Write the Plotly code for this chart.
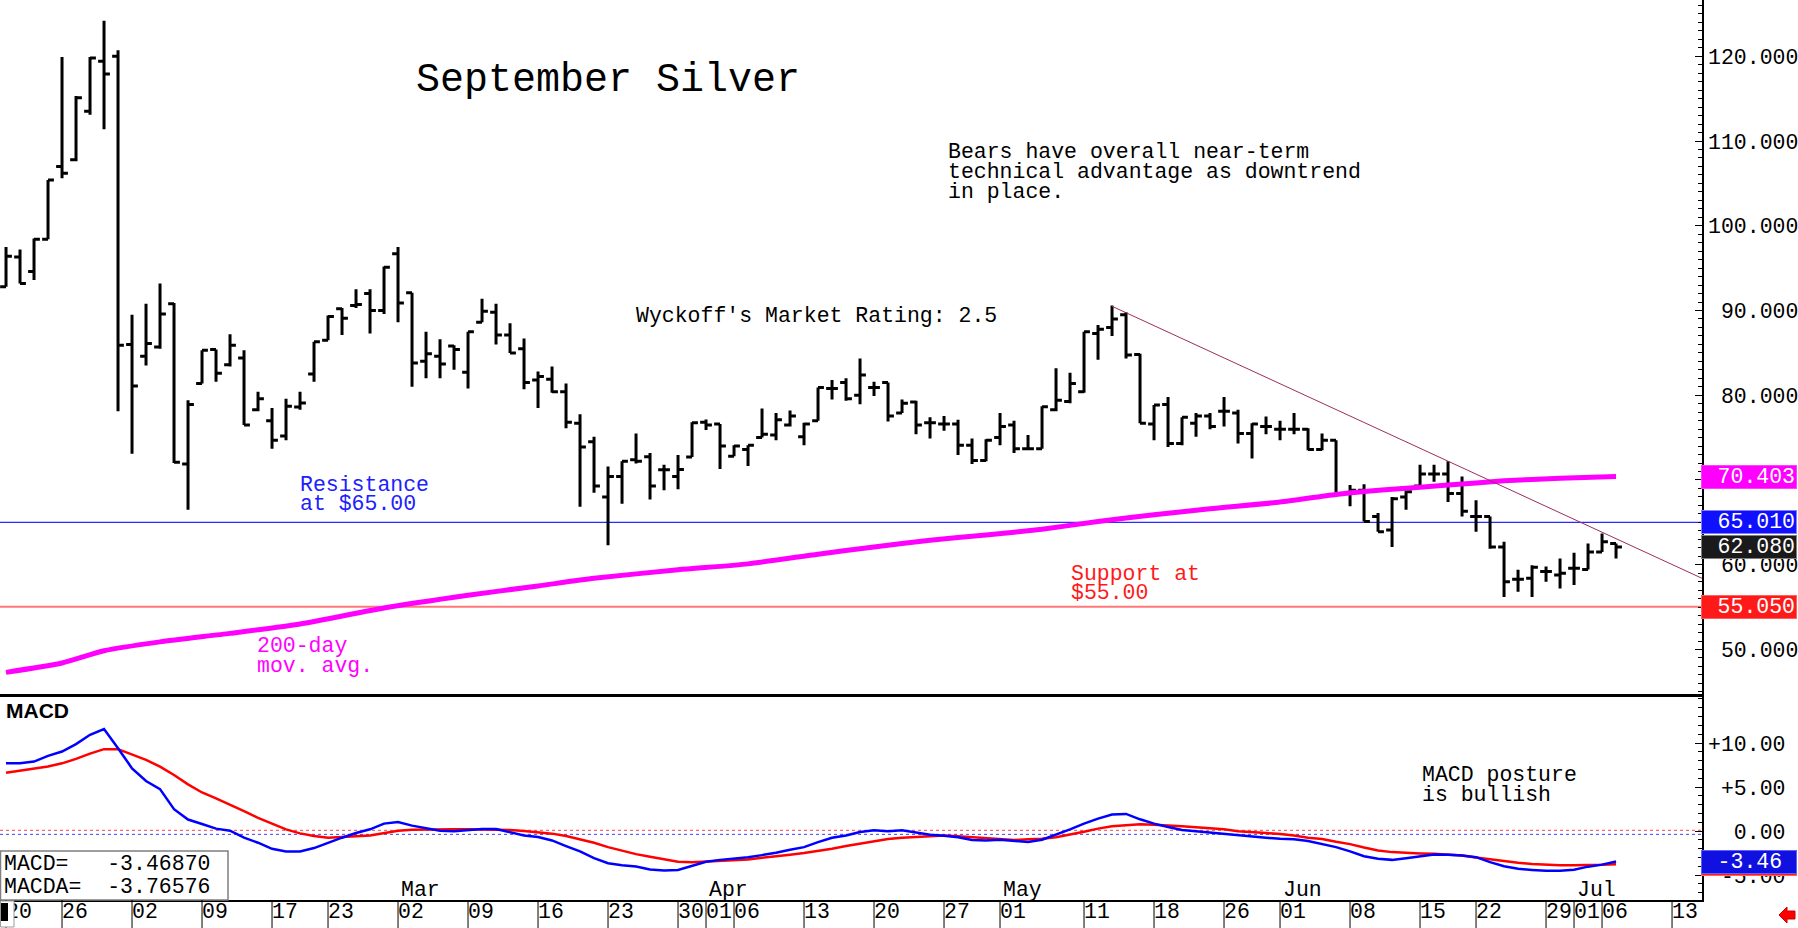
import math
import pandas as pd
import plotly.graph_objects as go

# ---------------- data ----------------
holidays = ["2026-01-19", "2026-02-16", "2026-04-03", "2026-05-25", "2026-06-19", "2026-07-03"]
calendar_start, calendar_end = "2026-01-20", "2026-07-17"

opens = [92.8, 96.3, 94.6, 98.4,
         107.0, 107.8, 113.5, 119.4, 120.0, 86.0, 84.6, 85.7, 90.8, 71.9,
         81.4, 85.4, 83.6, 84.4, 78.3, 77.0, 75.2, 78.6, 82.5, 86.5,
         90.2, 90.6, 92.0, 90.0, 96.7, 92.1, 84.0, 84.6, 85.8, 82.7,
         88.6, 89.8, 87.1, 85.5, 81.8, 81.9, 80.4, 76.7, 74.5, 68.0,
         70.4, 72.4, 72.75, 71.2, 70.4, 72.7, 76.8, 76.6, 72.8, 73.6,
         75.0, 75.3, 76.5, 75.1, 77.0, 80.8, 81.5, 80.0, 80.9, 81.5,
         77.9, 79.2, 76.75, 76.6, 76.6, 74.1, 72.3, 75.0, 76.5, 73.7,
         73.7, 78.3, 79.25, 80.4, 87.3, 88.0, 89.5, 84.8, 76.6, 78.9,
         74.3, 76.7, 77.55, 78.1, 77.9, 75.5, 76.3, 76.0, 76.0, 76.0,
         73.6, 74.7, 68.4, 68.8, 65.7, 64.1, 68.0, 69.3, 70.7, 70.7,
         68.4, 65.7, 65.7, 62.1, 58.3, 58.4, 59.2, 58.8, 59.6, 59.45,
         61.5, 62.5]
highs = [97.5, 97.2, 98.5, 105.4,
         119.9, 115.3, 119.9, 124.2, 120.7, 89.5, 90.8, 93.2, 90.9, 79.4,
         85.3, 85.4, 87.2, 85.3, 80.4, 78.5, 79.6, 80.4, 86.3, 89.4,
         90.3, 92.5, 92.5, 95.2, 97.5, 92.1, 87.5, 86.6, 85.9, 87.5,
         91.4, 90.8, 88.5, 86.7, 82.8, 83.4, 81.4, 77.75, 75.1, 71.6,
         72.2, 75.5, 73.2, 71.8, 72.95, 76.8, 77.15, 76.6, 74.1, 74.1,
         78.45, 77.9, 78.2, 76.75, 80.9, 81.8, 82.0, 84.35, 81.6, 81.5,
         79.5, 79.35, 77.4, 77.55, 77.1, 74.9, 74.8, 77.9, 77.0, 75.3,
         78.7, 83.2, 82.65, 87.5, 88.3, 90.6, 89.8, 84.9, 78.85, 79.8,
         77.4, 77.9, 77.9, 79.8, 78.3, 76.7, 77.5, 77.0, 77.9, 76.1,
         75.5, 74.7, 69.4, 69.5, 66.1, 68.0, 68.8, 71.8, 71.8, 72.2,
         70.4, 67.6, 65.7, 62.7, 59.4, 59.95, 59.8, 60.75, 61.4, 62.5,
         63.7, 62.5]
lows = [92.8, 93.2, 93.6, 98.4,
        105.6, 107.6, 113.1, 111.4, 78.1, 73.1, 83.5, 85.5, 72.0, 66.5,
        81.4, 81.6, 83.4, 76.5, 78.1, 73.7, 74.7, 78.3, 81.6, 86.5,
        87.1, 90.3, 87.3, 89.6, 88.6, 81.0, 82.0, 82.0, 83.0, 80.8,
        88.6, 86.0, 85.0, 80.7, 78.5, 80.3, 76.1, 66.85, 68.5, 62.3,
        67.2, 71.95, 67.7, 68.8, 68.9, 72.7, 75.9, 71.3, 72.8, 71.65,
        75.0, 74.7, 76.3, 74.1, 77.0, 79.5, 79.35, 78.95, 79.9, 76.9,
        77.9, 75.4, 74.9, 75.8, 72.95, 71.9, 72.2, 74.1, 73.2, 73.6,
        73.7, 78.1, 79.05, 80.3, 84.2, 87.0, 84.35, 76.7, 74.7, 73.9,
        74.1, 75.1, 76.0, 76.3, 74.3, 72.55, 75.4, 74.7, 75.4, 73.5,
        73.5, 68.4, 66.9, 65.1, 63.9, 62.1, 66.5, 69.2, 69.8, 67.4,
        65.7, 63.9, 61.9, 56.2, 56.8, 56.2, 58.0, 57.2, 57.6, 59.45,
        61.5, 60.75]
closes = [96.4, 93.2, 98.4, 105.4,
          106.2, 115.1, 119.8, 117.9, 85.9, 81.1, 86.1, 89.6, 72.1, 78.9,
          85.3, 82.6, 85.9, 76.5, 79.6, 74.7, 78.7, 79.1, 86.3, 89.3,
          89.1, 90.7, 90.0, 95.1, 90.9, 83.8, 84.9, 83.7, 85.4, 87.5,
          89.9, 87.1, 85.0, 81.5, 82.2, 80.4, 76.8, 73.9, 69.3, 70.4,
          72.2, 72.2, 69.3, 71.2, 71.25, 76.75, 76.5, 74.0, 74.0, 74.1,
          75.4, 77.1, 77.55, 76.6, 80.9, 80.8, 79.6, 82.4, 80.9, 77.55,
          79.05, 76.5, 76.75, 76.6, 74.1, 72.3, 74.7, 76.3, 73.7, 73.7,
          78.65, 79.4, 81.4, 87.5, 87.8, 89.0, 84.75, 76.7, 78.85, 74.3,
          77.4, 77.55, 76.3, 78.1, 75.5, 76.6, 76.3, 76.0, 76.0, 73.6,
          74.7, 68.4, 68.8, 65.1, 63.9, 67.8, 68.6, 70.7, 70.7, 68.4,
          66.3, 65.7, 62.1, 58.0, 58.3, 59.7, 59.2, 59.0, 59.6, 61.5,
          62.7, 62.08]

macd = [7.69, 7.69, 7.89, 8.53, 9.03, 9.87, 10.93, 11.58,
        9.41, 7.12, 5.68, 4.76, 2.48, 1.30, 0.80, 0.27,
        0.04, -0.76, -1.33, -2.02, -2.32, -2.32, -1.94, -1.33,
        -0.76, -0.23, 0.19, 0.84, 1.03, 0.61, 0.30, 0.04,
        -0.04, 0.08, 0.23, 0.23, -0.11, -0.50, -0.69, -1.07,
        -1.71, -2.32, -3.09, -3.66, -3.89, -4.04, -4.38, -4.50,
        -4.42, -3.92, -3.50, -3.28, -3.16, -2.97, -2.74, -2.48,
        -2.13, -1.83, -1.26, -0.76, -0.50, -0.11, 0.08, -0.04,
        0.08,
        -0.20, -0.42, -0.53, -0.72, -1.03, -1.07, -0.99, -1.14,
        -1.26, -0.99, -0.42, 0.19, 0.84, 1.41, 1.87, 1.94,
        1.33, 0.84, 0.46, 0.11, -0.04, -0.19, -0.34, -0.53,
        -0.69, -0.76, -0.88, -0.95, -1.14, -1.45, -1.83, -2.32,
        -2.86, -3.16, -3.28, -3.09, -2.86, -2.67, -2.70, -2.78,
        -2.97, -3.54, -4.00, -4.30, -4.42, -4.53, -4.53, -4.40,
        -4.05, -3.82, -3.4687]
macda = [6.63, 6.86, 7.01, 7.32, 7.69, 8.19, 8.80, 9.30,
         9.30, 8.72, 8.08, 7.32, 6.36, 5.30, 4.38, 3.70,
         3.01, 2.25, 1.49, 0.80, 0.19, -0.27, -0.57, -0.76,
         -0.72, -0.61, -0.50, -0.19, 0.04, 0.15, 0.19, 0.19,
         0.19, 0.19, 0.19, 0.19, 0.11, 0.00, -0.11, -0.30,
         -0.57, -0.95, -1.33, -1.83, -2.25, -2.63, -2.93, -3.24,
         -3.50, -3.54, -3.47, -3.43, -3.35, -3.24, -3.05, -2.90,
         -2.71, -2.51, -2.29, -2.02, -1.71, -1.45, -1.18, -0.91,
         -0.76,
         -0.65, -0.57, -0.50, -0.61, -0.72, -0.80, -0.91, -1.03,
         -0.95, -0.88, -0.72, -0.42, -0.08, 0.27, 0.53, 0.65,
         0.76, 0.72, 0.65, 0.53, 0.42, 0.34, 0.19, -0.04,
         -0.11, -0.23, -0.34, -0.50, -0.76, -0.91, -1.22, -1.49,
         -1.87, -2.21, -2.40, -2.51, -2.55, -2.59, -2.70, -2.78,
         -3.01, -3.24, -3.47, -3.62, -3.75, -3.86, -3.90, -3.90,
         -3.90, -3.84, -3.7658]

ma_dates = ["2026-01-20", "2026-01-26", "2026-01-29", "2026-02-04", "2026-02-11", "2026-02-19",
            "2026-02-27", "2026-03-09", "2026-03-16", "2026-03-20", "2026-03-30", "2026-04-07",
            "2026-04-14", "2026-04-20", "2026-04-24", "2026-04-30", "2026-05-06", "2026-05-12",
            "2026-05-18", "2026-05-22", "2026-06-01", "2026-06-05", "2026-06-11", "2026-06-17",
            "2026-06-24", "2026-06-30", "2026-07-07"]
ma_values = [47.3, 48.4, 49.85, 50.9, 51.9, 53.0, 54.9, 56.4, 57.5, 58.4, 59.4, 60.1,
             61.25, 62.1, 62.9, 63.5, 64.2, 65.1, 65.9, 66.6, 67.4, 68.3, 68.9, 69.4,
             69.9, 70.2, 70.403]

trend_start_date = "2026-05-13"
trend_values = [90.5, 58.4]          # at start date, and at the right edge of the chart

resistance = 65.01
support = 55.05
last_close = 62.08
ma_last = 70.403
macd_last = -3.46870
macda_last = -3.76576
macd_ref_red = 0.08
macd_ref_blue = -0.38

tick_dates = ["2026-01-20", "2026-01-26", "2026-02-02", "2026-02-09", "2026-02-17", "2026-02-23",
              "2026-03-02", "2026-03-09", "2026-03-16", "2026-03-23", "2026-03-30", "2026-04-01",
              "2026-04-06", "2026-04-13", "2026-04-20", "2026-04-27", "2026-05-01", "2026-05-11",
              "2026-05-18", "2026-05-26", "2026-06-01", "2026-06-08", "2026-06-15", "2026-06-22",
              "2026-06-29", "2026-07-01", "2026-07-06", "2026-07-13"]
tick_labels = [d[-2:] for d in tick_dates]
month_dates = ["2026-03-02", "2026-04-01", "2026-05-01", "2026-06-01", "2026-07-01"]
month_labels = ["Mar", "Apr", "May", "Jun", "Jul"]

price_ticks = [50, 60, 70, 80, 90, 100, 110, 120]
hidden_price_ticks = [70]            # label sits under the moving-average value box
macd_ticks = [-5, 0, 5, 10]
macd_tick_labels = ["-5.00", "0.00", "+5.00", "+10.00"]

# ---------------- positions on a trading-day axis ----------------
hol = set(holidays)
cal = [d.strftime("%Y-%m-%d") for d in pd.bdate_range(calendar_start, calendar_end)
       if d.strftime("%Y-%m-%d") not in hol]
pos = {d: i for i, d in enumerate(cal)}
dates = cal[:len(opens)]
xs = [pos[d] for d in dates]
X_MIN = pos[tick_dates[0]] - 0.43
X_MAX = pos[tick_dates[-1]] + 2.14

W, H = 1798, 928
PR = 1702  # right edge of plot area (px)


def PX(px):
    return px / PR


def PY(py):
    return 1 - py / H


NB = "\u00a0"
FONT = "Liberation Mono"
FS = 21.5

fig = go.Figure()

fig.add_trace(go.Ohlc(
    x=xs, open=opens, high=highs, low=lows, close=closes,
    increasing=dict(line=dict(color="black", width=3)),
    decreasing=dict(line=dict(color="black", width=3)),
    tickwidth=0.42, xaxis="x", yaxis="y", showlegend=False, hoverinfo="skip"))

fig.add_trace(go.Scatter(
    x=[pos[d] for d in ma_dates], y=ma_values, mode="lines",
    line=dict(color="#ff00ff", width=5, shape="spline", smoothing=0.6),
    xaxis="x", yaxis="y", showlegend=False, hoverinfo="skip"))

fig.add_trace(go.Scatter(
    x=[pos[trend_start_date], X_MAX], y=trend_values, mode="lines",
    line=dict(color="#9b2d5e", width=1), xaxis="x", yaxis="y", showlegend=False, hoverinfo="skip"))

fig.add_trace(go.Scatter(
    x=xs, y=macda, mode="lines", line=dict(color="#ff0000", width=2.5),
    xaxis="x2", yaxis="y2", showlegend=False, hoverinfo="skip"))
fig.add_trace(go.Scatter(
    x=xs, y=macd, mode="lines", line=dict(color="#0000ff", width=2.5),
    xaxis="x2", yaxis="y2", showlegend=False, hoverinfo="skip"))

# empty trace so that the date-row subplot is created
fig.add_trace(go.Scatter(x=[None], y=[None], mode="markers", xaxis="x3", yaxis="y3",
                         showlegend=False, hoverinfo="skip"))

price_range = [44.57, 126.64]
macd_range = [-7.84, 15.34]

price_labels = ["" if v in hidden_price_ticks else NB * (7 - len(f"{v:.3f}")) + f"{v:.3f}"
                for v in price_ticks]
macd_labels = [NB * (6 - len(t)) + t for t in macd_tick_labels]

axfont = dict(family=FONT, size=FS, color="black")

fig.update_layout(
    width=W, height=H,
    margin=dict(l=0, r=W - PR, t=0, b=0),
    paper_bgcolor="white", plot_bgcolor="white",
    font=dict(family=FONT, size=FS, color="black"),
    showlegend=False,
    xaxis=dict(domain=[0, 1], range=[X_MIN, X_MAX], anchor="y", visible=False,
               rangeslider=dict(visible=False), fixedrange=True),
    xaxis2=dict(domain=[0, 1], range=[X_MIN, X_MAX], anchor="y2",
                showticklabels=False, ticks="", showgrid=False, zeroline=False,
                showline=True, linecolor="black", linewidth=1.5),
    xaxis3=dict(domain=[0, 1], range=[X_MIN, X_MAX], anchor="y3",
                tickmode="array", tickvals=[pos[d] for d in tick_dates], ticktext=tick_labels,
                tickangle=0, ticklabelposition="inside right", ticklabeloverflow="allow",
                ticks="", showgrid=False, zeroline=False, showline=False, tickfont=axfont),
    yaxis=dict(domain=[PY(695.5), 1], range=price_range, anchor="x", side="right",
               showline=True, linecolor="black", linewidth=1.5,
               tickmode="array", tickvals=price_ticks, ticktext=price_labels,
               ticks="inside", ticklen=7, tickcolor="black", tickwidth=1,
               minor=dict(tickmode="linear", tick0=0, dtick=1, ticks="inside", ticklen=4,
                          tickcolor="black", showgrid=False),
               showgrid=False, zeroline=False, tickfont=axfont),
    yaxis2=dict(domain=[PY(900), PY(696)], range=macd_range, anchor="x2", side="right",
                showline=True, linecolor="black", linewidth=1.5,
                tickmode="array", tickvals=macd_ticks, ticktext=macd_labels,
                ticks="inside", ticklen=7, tickcolor="black", tickwidth=1,
                minor=dict(tickmode="linear", tick0=0, dtick=1, ticks="inside", ticklen=4,
                           tickcolor="black", showgrid=False),
                showgrid=False, zeroline=False, tickfont=axfont),
    yaxis3=dict(domain=[0, PY(900)], range=[0, 1], anchor="x3", visible=False, fixedrange=True),
    yaxis4=dict(overlaying="y", side="left", anchor="x", range=price_range,
                showline=True, linecolor="black", linewidth=1,
                tickmode="linear", tick0=0, dtick=5, ticks="inside", ticklen=6,
                minor=dict(tickmode="linear", tick0=0, dtick=1, ticks="inside", ticklen=3,
                           tickcolor="black"),
                showticklabels=False, showgrid=False, zeroline=False),
    yaxis5=dict(overlaying="y2", side="left", anchor="x2", range=macd_range,
                showline=True, linecolor="black", linewidth=1,
                tickmode="linear", tick0=0, dtick=5, ticks="inside", ticklen=6,
                minor=dict(tickmode="linear", tick0=0, dtick=1, ticks="inside", ticklen=3,
                           tickcolor="black"),
                showticklabels=False, showgrid=False, zeroline=False),
)

shapes = [
    dict(type="line", xref="paper", yref="y", x0=0, x1=1, y0=resistance, y1=resistance,
         line=dict(color="#2a2aff", width=1.3), layer="below"),
    dict(type="line", xref="paper", yref="y", x0=0, x1=1, y0=support, y1=support,
         line=dict(color="#ff7878", width=2), layer="below"),
    dict(type="line", xref="paper", yref="y2", x0=0, x1=1, y0=macd_ref_red, y1=macd_ref_red,
         line=dict(color="#ff4040", width=1, dash="dot"), layer="below"),
    dict(type="line", xref="paper", yref="y2", x0=0, x1=1, y0=macd_ref_blue, y1=macd_ref_blue,
         line=dict(color="#4040ff", width=1, dash="dot"), layer="below"),
    dict(type="line", xref="paper", yref="paper", x0=0, x1=1, y0=PY(695.5), y1=PY(695.5),
         line=dict(color="black", width=3)),
    dict(type="rect", xref="paper", yref="paper", x0=PX(0.5), x1=PX(228), y0=PY(900), y1=PY(851),
         line=dict(color="#7f7f7f", width=1.5), fillcolor="white", layer="above"),
]
# date-row separators at every labelled tick
for d in tick_dates:
    shapes.append(dict(type="line", xref="x3", yref="paper", x0=pos[d], x1=pos[d],
                       y0=0, y1=PY(900), line=dict(color="black", width=1)))
shapes += [
    dict(type="rect", xref="paper", yref="paper", x0=PX(0.5), x1=PX(14), y0=PY(927), y1=PY(901),
         line=dict(color="#9a9a9a", width=1), fillcolor="white"),
    dict(type="rect", xref="paper", yref="paper", x0=PX(1), x1=PX(8), y0=PY(921), y1=PY(903),
         line=dict(width=0), fillcolor="black"),
    dict(type="path", xref="paper", yref="paper",
         path=(f"M {PX(1779)},{PY(915)} L {PX(1787)},{PY(907)} L {PX(1787)},{PY(911)} "
               f"L {PX(1795)},{PY(911)} L {PX(1795)},{PY(919)} L {PX(1787)},{PY(919)} "
               f"L {PX(1787)},{PY(923)} Z"),
         fillcolor="#ff0000", line=dict(color="#cc0000", width=1)),
]
fig.update_layout(shapes=shapes)

ann = []


def text(t, x, y, color="black", size=FS, family=FONT, bold=False):
    if bold:
        t = f"<b>{t}</b>"
    ann.append(dict(text=t, xref="paper", yref="paper", x=PX(x), y=PY(y),
                    xanchor="left", yanchor="middle", showarrow=False,
                    font=dict(family=family, size=size, color=color)))


text("September Silver", 414, 80, size=40)
text("Bears have overall near-term", 946, 152)
text("technical advantage as downtrend", 946, 172)
text("in place.", 946, 192)
text("Wyckoff's Market Rating: 2.5", 634, 316)
text("Resistance", 298, 485, color="#2020ff")
text("at $65.00", 298, 504, color="#2020ff")
text("200-day", 255, 646, color="#ff00ff")
text("mov. avg.", 255, 666, color="#ff00ff")
text("Support at", 1069, 574, color="#ff1a1a")
text("$55.00", 1069, 593, color="#ff1a1a")
text("MACD", 4, 710, size=21, family="Liberation Sans Narrow, Liberation Sans", bold=True)
text("MACD posture", 1420, 775)
text("is bullish", 1420, 795)
text(f"MACD={NB*3}{macd_last:.5f}", 2, 864)
text(f"MACDA={NB*2}{macda_last:.5f}", 2, 887)

for d, m in zip(month_dates, month_labels):
    ann.append(dict(text=m, xref="x2", yref="paper", x=pos[d], y=PY(890),
                    xanchor="left", yanchor="middle", xshift=1, showarrow=False,
                    font=dict(family=FONT, size=FS, color="black")))


def trunc2(v):
    return f"{math.trunc(v * 100) / 100:.2f}"


def box(val, label, yref, bg, border, pad_right=""):
    ann.append(dict(text=label + pad_right, xref="paper", yref=yref, x=1, y=val,
                    xanchor="left", yanchor="middle", xshift=-1, showarrow=False,
                    width=92, height=20, align="right", valign="middle",
                    bgcolor=bg, bordercolor=border, borderwidth=1, borderpad=1,
                    font=dict(family=FONT, size=FS, color="white")))


box(ma_last, f"{ma_last:.3f}", "y", "#ff00ff", "#ff40ff")
box(resistance, f"{resistance:.3f}", "y", "#1010ff", "#8080ff")
box(last_close, f"{last_close:.3f}", "y", "#1a1a1a", "#808080")
box(support, f"{support:.3f}", "y", "#ff1a1a", "#ff6060")
box(macda_last, trunc2(macda_last), "y2", "#ff1a1a", "#ff6060", NB)
box(macd_last, trunc2(macd_last), "y2", "#1010e0", "#6060ff", NB)

fig.update_layout(annotations=ann)

fig.write_html("out.html")
